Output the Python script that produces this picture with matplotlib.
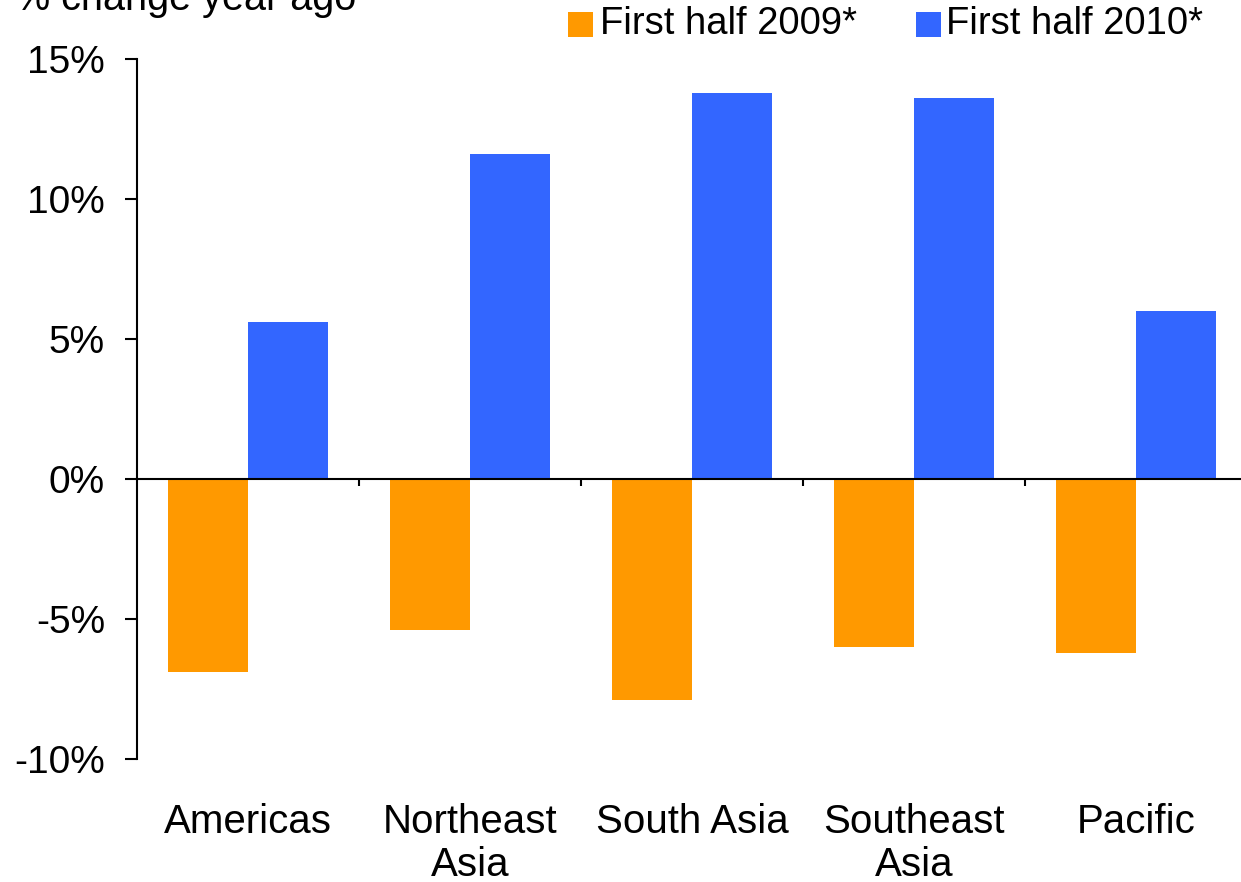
import matplotlib
matplotlib.use("Agg")
import matplotlib.pyplot as plt
from matplotlib.patches import Rectangle
from matplotlib.transforms import blended_transform_factory
import numpy as np

plt.rcParams['font.family'] = ['Liberation Sans', 'DejaVu Sans']

regions = ["Americas", "Northeast\nAsia", "South Asia", "Southeast\nAsia", "Pacific"]
h1_2009 = [-6.9, -5.4, -7.9, -6.0, -6.2]
h1_2010 = [5.6, 11.6, 13.8, 13.6, 6.0]
series_names = ["First half 2009*", "First half 2010*"]
series_colors = ["#FF9900", "#3366FF"]
y_ticks = [-10, -5, 0, 5, 10, 15]

W, H = 1241, 882
fig = plt.figure(figsize=(W / 100, H / 100), dpi=100)
ax = fig.add_axes([137 / W, 1 - 759 / H, 1110 / W, 700 / H])

x = np.arange(len(regions))
bw = 0.36
ax.bar(x - bw / 2, h1_2009, width=bw, color=series_colors[0], zorder=2)
ax.bar(x + bw / 2, h1_2010, width=bw, color=series_colors[1], zorder=2)

ax.set_xlim(-0.5, len(regions) - 0.5)
ax.set_ylim(-10, 15)

for s in ("top", "right"):
    ax.spines[s].set_visible(False)
ax.spines["bottom"].set_position(("data", 0))
ax.spines["bottom"].set_linewidth(1.5)
ax.spines["bottom"].set_zorder(3)
ax.spines["left"].set_linewidth(1.5)

ax.set_yticks(y_ticks)
ax.set_yticklabels([f"{v}%" for v in y_ticks])
ax.tick_params(axis="y", direction="out", length=9, width=1.5, labelsize=28, pad=14)

ax.set_xticks(np.arange(len(regions) - 1) + 0.5)
ax.set_xticklabels([])
ax.tick_params(axis="x", direction="out", length=5, width=1.5)

tr = blended_transform_factory(ax.transData, fig.transFigure)
for xi, name in zip(x, regions):
    ax.text(xi, 1 - 803 / H, name, transform=tr, ha="center", va="top",
            fontsize=29, linespacing=1.16)

fig.text(15 / W, 1 - 10 / H, "% change year ago", ha="left", va="baseline", fontsize=28.5)

# legend entries
legend_items = [(568, 600), (916, 946)]
for (sx, tx), name, col in zip(legend_items, series_names, series_colors):
    fig.add_artist(Rectangle((sx / W, 1 - 37 / H), 25 / W, 25 / H,
                             transform=fig.transFigure, color=col, lw=0))
    fig.text(tx / W, 1 - 24.5 / H, name, ha="left", va="center", fontsize=27.5)

fig.savefig("out.png", dpi=100)
